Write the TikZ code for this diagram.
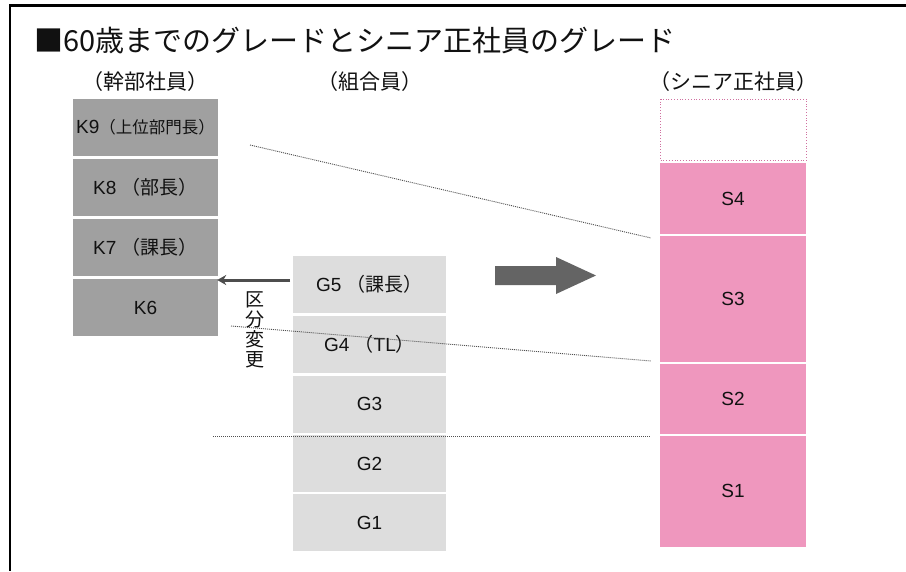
\documentclass[tikz,border=0pt]{standalone}
\usepackage{fontspec}
\setmainfont{Liberation Sans}
\newfontfamily\jp{Noto Sans CJK JP}
\usetikzlibrary{arrows.meta}
\definecolor{kgray}{HTML}{A0A0A0}
\definecolor{ggray}{HTML}{DDDDDD}
\definecolor{spink}{HTML}{EF97BE}
\definecolor{sdash}{HTML}{D070A0}
\definecolor{txt}{HTML}{111111}
\definecolor{bigarrowc}{HTML}{646464}
\definecolor{smallarrowc}{HTML}{4D4D4D}
\definecolor{dotc}{HTML}{505050}
\tikzset{
  box/.style={rectangle, inner sep=0pt, font=\fontsize{19}{21}\selectfont, text=txt},
  kbox/.style={box, fill=kgray, minimum width=145pt, minimum height=57pt},
  gbox/.style={box, fill=ggray, minimum width=153pt, minimum height=57pt},
  sbox/.style={box, fill=spink, minimum width=146pt},
  hdr/.style={inner sep=0pt, font=\jp\fontsize{21}{23}\selectfont, text=txt},
  dotline/.style={draw=dotc, line width=0.9pt, dash pattern=on 1pt off 1pt},
  sarrow/.style={draw=smallarrowc, line width=3pt, -{Stealth[length=9pt,width=10pt]}},
}
\begin{document}
\begin{tikzpicture}[x=1pt,y=-1pt]
\useasboundingbox (0,0) rectangle (906,571);
\fill[white] (0,0) rectangle (906,571);
% frame
\draw[line width=3pt] (9,5.5) -- (906,5.5);
\draw[line width=1.7pt] (9.8,4) -- (9.8,571);
% title
\node[anchor=west, inner sep=0pt, font=\jp\fontsize{29}{31}\selectfont, text=txt] (title) at (34,41) {■60歳までのグレードとシニア正社員のグレード};
% headers
\node[hdr] (h1) at (145.5,82) {（幹部社員）};
\node[hdr] (h2) at (369.5,82) {（組合員）};
\node[hdr] (h3) at (733,82) {（シニア正社員）};
% K column
\node[kbox] (K9) at (145.5,127.5) {K9{\jp\fontsize{16.5}{17}\selectfont （上位部門長）}};
\node[kbox] (K8) at (145.5,187.5) {K8 {\jp（部長）}};
\node[kbox] (K7) at (145.5,247.5) {K7 {\jp（課長）}};
\node[kbox] (K6) at (145.5,307.5) {K6};
% G column
\node[gbox] (G5) at (369.5,284) {G5 {\jp（課長）}};
\node[gbox] (G4) at (369.5,344.5) {G4 {\jp（}TL{\jp）}};
\node[gbox] (G3) at (369.5,404) {G3};
\node[gbox] (G2) at (369.5,463.5) {G2};
\node[gbox] (G1) at (369.5,522.5) {G1};
% S column
\node[draw=sdash, dotted, line width=0.8pt, minimum width=146pt, minimum height=61pt, inner sep=0pt] (S5) at (733.5,129.5) {};
\node[sbox, minimum height=71pt] (S4) at (733,198.5) {S4};
\node[sbox, minimum height=126pt] (S3) at (733,298.5) {S3};
\node[sbox, minimum height=70.5pt] (S2) at (733,399.2) {S2};
\node[sbox, minimum height=110.5pt] (S1) at (733,491.3) {S1};
% big arrow
\fill[bigarrowc] (495,266) -- (556,266) -- (556,257) -- (596,275.5) -- (556,294) -- (556,285) -- (495,285) -- cycle;
% small arrow and label
\coordinate (a1) at (290,280);
\draw[sarrow, shorten >=-1pt] (a1) -- (a1 -| K6.east);
\node[inner sep=0pt, align=center, font=\jp\fontsize{19}{20}\selectfont, text=txt] (kubun) at (255,330) {区\\分\\変\\更};
% dotted lines
\coordinate (d1s) at (250,145);
\coordinate (d1e) at (651,238);
\coordinate (d2s) at (231,326);
\coordinate (d2e) at (651,361);
\coordinate (d3s) at (213,436);
\coordinate (d3e) at (650,436);
\draw[dotline] (d1s) -- (d1e);
\draw[dotline] (d2s) -- (d2e);
\draw[dotline] (d3s) -- (d3e);
\end{tikzpicture}
\end{document}
